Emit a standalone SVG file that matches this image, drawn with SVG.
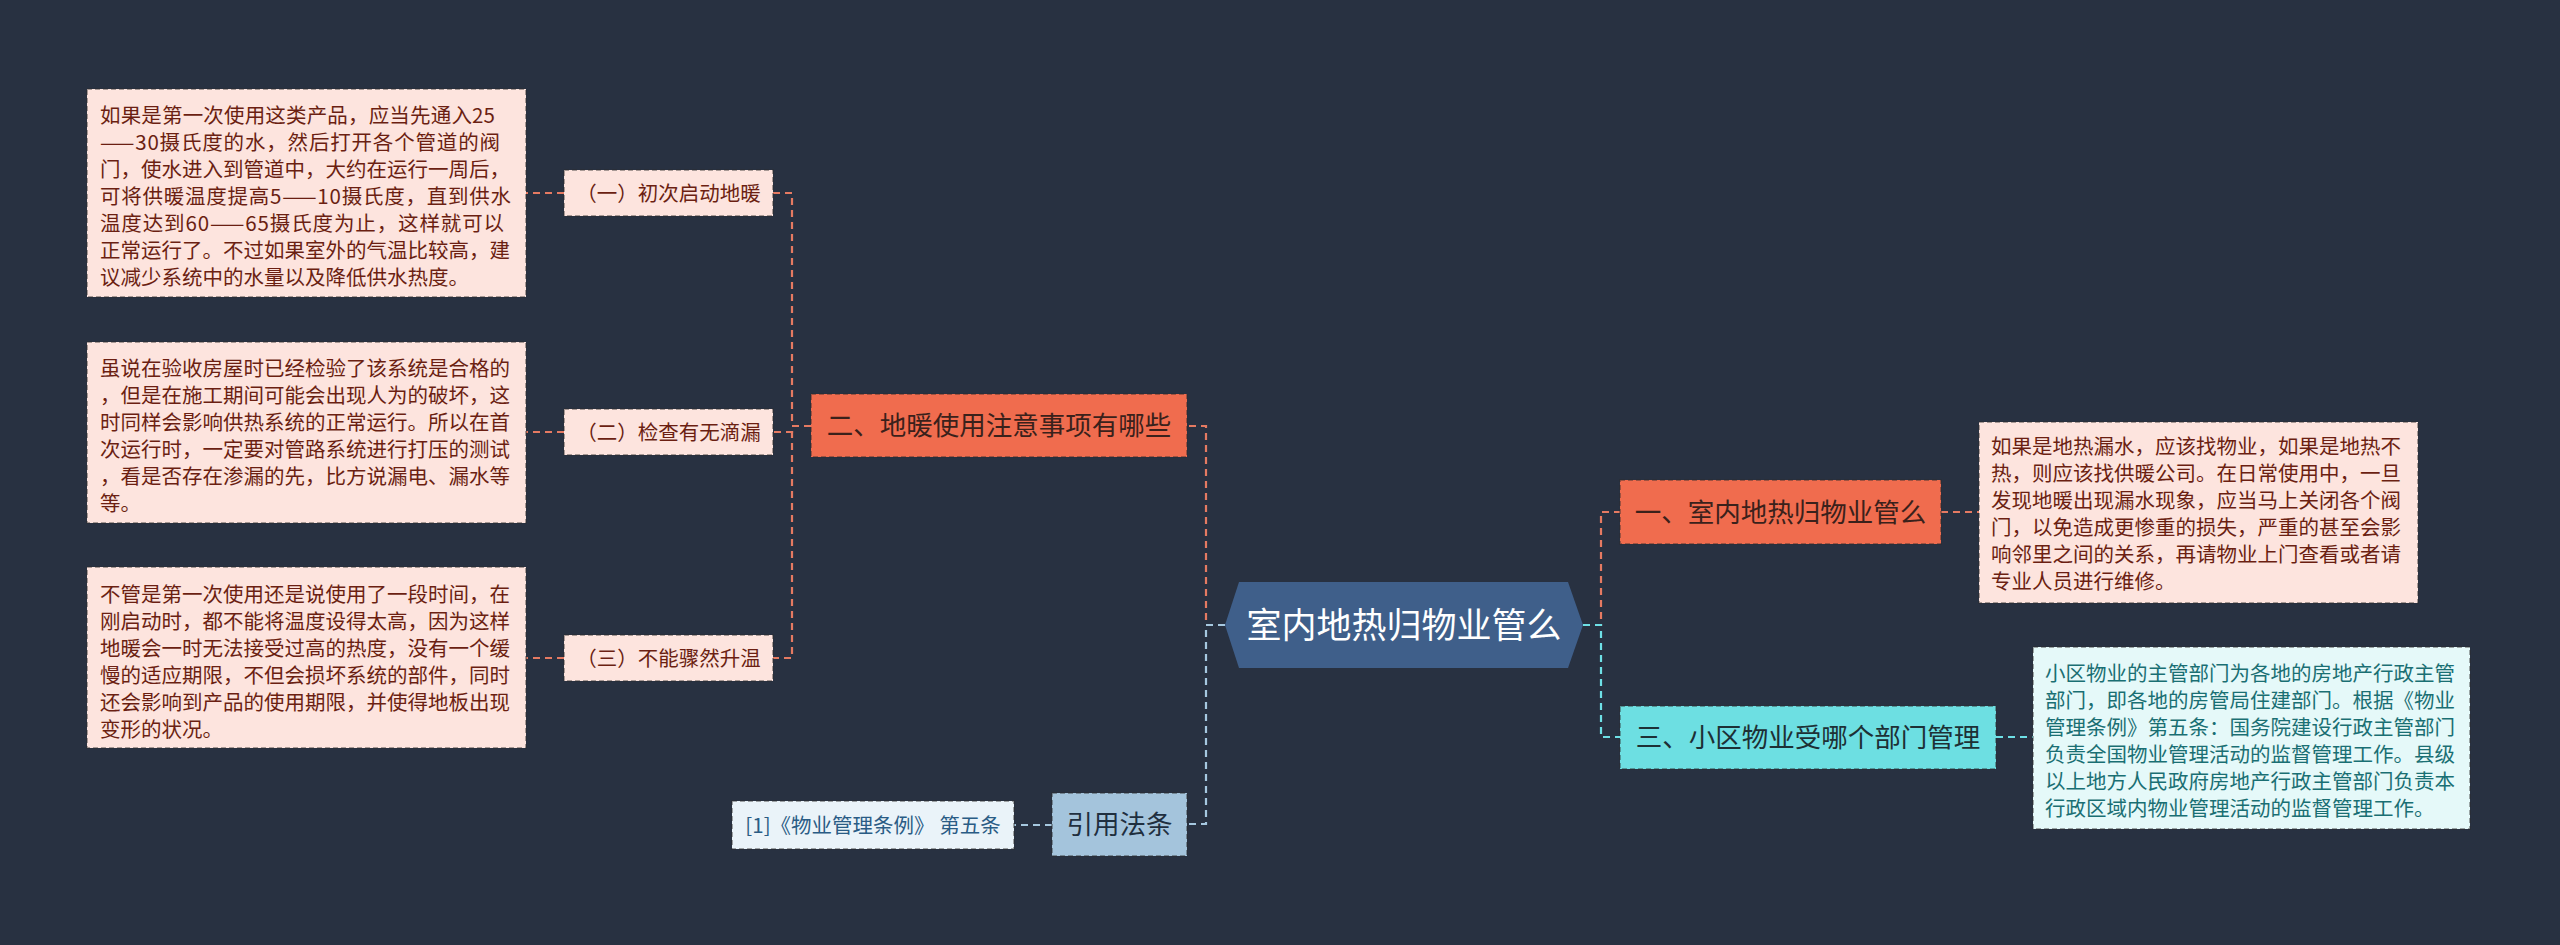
<svg xmlns="http://www.w3.org/2000/svg" width="2560" height="945" viewBox="0 0 2560 945">
<style>
text{font-family:"Noto Sans CJK SC","Noto Sans",sans-serif;}
.bd{stroke:#2b2b2b;stroke-opacity:0.55;stroke-width:1.5;stroke-dasharray:5 3;}
.pink{fill:#fde4de;}
.ptxt{fill:#6b1f12;font-size:20.5px;}
.ctxt{fill:#1a6f73;font-size:20.5px;}
.main{font-size:26.5px;text-anchor:middle;}
.sub{font-size:20.5px;text-anchor:middle;fill:#6b1f12;}
.cn{fill:none;stroke-width:2.2;stroke-dasharray:7 5;}
.or{stroke:#e57a62;}
.lb{stroke:#a6c8e0;}
.cy{stroke:#6ee0e6;}
</style>
<rect x="0" y="0" width="2560" height="945" fill="#283141"/>
<g id="connectors">
<path class="cn or" d="M1225,625 H1206 V426 H1187"/>
<path class="cn or" d="M811,426 H792 V193 H773"/>
<path class="cn or" d="M811,426 H792 V432 H773"/>
<path class="cn or" d="M811,426 H792 V658 H773"/>
<path class="cn or" d="M564,193 H526"/>
<path class="cn or" d="M564,432 H526"/>
<path class="cn or" d="M564,658 H526"/>
<path class="cn or" d="M1583,625 H1601 V512 H1620"/>
<path class="cn or" d="M1941,512 H1979"/>
<path class="cn lb" d="M1225,625 H1206 V824 H1187"/>
<path class="cn lb" d="M1052,825 H1014"/>
<path class="cn cy" d="M1583,625 H1601 V737 H1620"/>
<path class="cn cy" d="M1996,737 H2033"/>
</g>
<g id="center">
<polygon points="1225,625 1239,582 1568,582 1583,625 1568,668 1239,668" fill="#3f5f8a"/>
<text x="1404" y="638" font-size="35" fill="#ffffff" text-anchor="middle">室内地热归物业管么</text>
</g>
<g id="branch-left">
<rect x="811" y="394" width="376" height="63" fill="#f06c4e" class="bd"/>
<text class="main" x="999" y="435" fill="#3a211b">二、地暖使用注意事项有哪些</text>
</g>
<g id="sub1">
<rect x="564" y="170" width="209" height="46" class="pink bd"/>
<text class="sub" x="668.5" y="200.5">（一）初次启动地暖</text>
</g>
<g id="sub2">
<rect x="564" y="409" width="209" height="46" class="pink bd"/>
<text class="sub" x="668.5" y="439.5">（二）检查有无滴漏</text>
</g>
<g id="sub3">
<rect x="564" y="635" width="209" height="46" class="pink bd"/>
<text class="sub" x="668.5" y="665.5">（三）不能骤然升温</text>
</g>
<g id="text1">
<rect x="87" y="89" width="439" height="208" class="pink bd"/>
<text class="ptxt">
<tspan x="100" y="122.5" textLength="395" lengthAdjust="spacing">如果是第一次使用这类产品，应当先通入25</tspan>
<tspan x="100" y="149.5" textLength="400" lengthAdjust="spacing">——30摄氏度的水，然后打开各个管道的阀</tspan>
<tspan x="100" y="176.5">门，使水进入到管道中，大约在运行一周后，</tspan>
<tspan x="100" y="203.5" textLength="411" lengthAdjust="spacing">可将供暖温度提高5——10摄氏度，直到供水</tspan>
<tspan x="100" y="230.5" textLength="404" lengthAdjust="spacing">温度达到60——65摄氏度为止，这样就可以</tspan>
<tspan x="100" y="257.5">正常运行了。不过如果室外的气温比较高，建</tspan>
<tspan x="100" y="284.5">议减少系统中的水量以及降低供水热度。</tspan>
</text>
</g>
<g id="text2">
<rect x="87" y="342" width="439" height="181" class="pink bd"/>
<text class="ptxt">
<tspan x="100" y="375.5">虽说在验收房屋时已经检验了该系统是合格的</tspan>
<tspan x="100" y="402.5">，但是在施工期间可能会出现人为的破坏，这</tspan>
<tspan x="100" y="429.5">时同样会影响供热系统的正常运行。所以在首</tspan>
<tspan x="100" y="456.5">次运行时，一定要对管路系统进行打压的测试</tspan>
<tspan x="100" y="483.5">，看是否存在渗漏的先，比方说漏电、漏水等</tspan>
<tspan x="100" y="510.5">等。</tspan>
</text>
</g>
<g id="text3">
<rect x="87" y="567" width="439" height="181" class="pink bd"/>
<text class="ptxt">
<tspan x="100" y="601.5">不管是第一次使用还是说使用了一段时间，在</tspan>
<tspan x="100" y="628.5">刚启动时，都不能将温度设得太高，因为这样</tspan>
<tspan x="100" y="655.5">地暖会一时无法接受过高的热度，没有一个缓</tspan>
<tspan x="100" y="682.5">慢的适应期限，不但会损坏系统的部件，同时</tspan>
<tspan x="100" y="709.5">还会影响到产品的使用期限，并使得地板出现</tspan>
<tspan x="100" y="736.5">变形的状况。</tspan>
</text>
</g>
<g id="cite-node">
<rect x="1052" y="793" width="135" height="63" fill="#a4c4dc" class="bd"/>
<text class="main" x="1119.5" y="834" fill="#1f2f3f">引用法条</text>
</g>
<g id="cite-text">
<rect x="732" y="801" width="282" height="48" fill="#eaf3f9" class="bd"/>
<text x="873" y="832.5" font-size="20.5" fill="#2a5c85" text-anchor="middle">[1]《物业管理条例》 第五条</text>
</g>
<g id="branch-right1">
<rect x="1620" y="480" width="321" height="64" fill="#f06c4e" class="bd"/>
<text class="main" x="1780.5" y="521.5" fill="#3a211b">一、室内地热归物业管么</text>
</g>
<g id="text-right1">
<rect x="1979" y="422" width="439" height="181" class="pink bd"/>
<text class="ptxt">
<tspan x="1991" y="453.5">如果是地热漏水，应该找物业，如果是地热不</tspan>
<tspan x="1991" y="480.5">热，则应该找供暖公司。在日常使用中，一旦</tspan>
<tspan x="1991" y="507.5">发现地暖出现漏水现象，应当马上关闭各个阀</tspan>
<tspan x="1991" y="534.5">门，以免造成更惨重的损失，严重的甚至会影</tspan>
<tspan x="1991" y="561.5">响邻里之间的关系，再请物业上门查看或者请</tspan>
<tspan x="1991" y="588.5">专业人员进行维修。</tspan>
</text>
</g>
<g id="branch-right3">
<rect x="1620" y="706" width="376" height="63" fill="#6ddfe2" class="bd"/>
<text class="main" x="1808" y="747" fill="#1d3035">三、小区物业受哪个部门管理</text>
</g>
<g id="text-right3">
<rect x="2033" y="647" width="437" height="182" fill="#e5f9f9" class="bd"/>
<text class="ctxt">
<tspan x="2045" y="680.5">小区物业的主管部门为各地的房地产行政主管</tspan>
<tspan x="2045" y="707.5">部门，即各地的房管局住建部门。根据《物业</tspan>
<tspan x="2045" y="734.5">管理条例》第五条：国务院建设行政主管部门</tspan>
<tspan x="2045" y="761.5">负责全国物业管理活动的监督管理工作。县级</tspan>
<tspan x="2045" y="788.5">以上地方人民政府房地产行政主管部门负责本</tspan>
<tspan x="2045" y="815.5">行政区域内物业管理活动的监督管理工作。</tspan>
</text>
</g>
</svg>
